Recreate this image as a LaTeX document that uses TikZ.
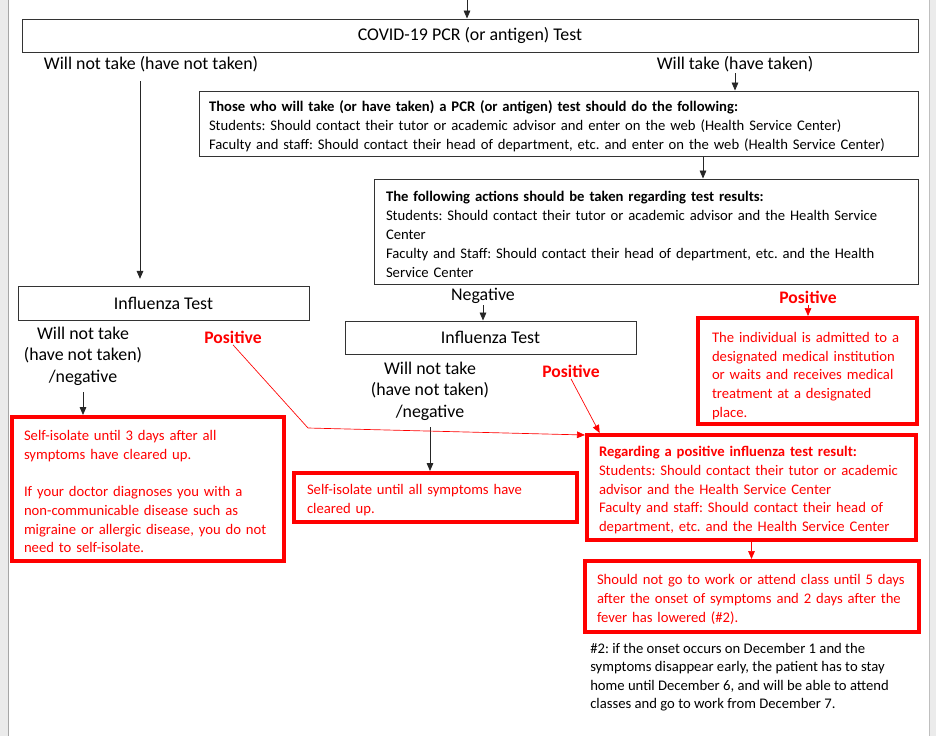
\documentclass[tikz,border=0pt]{standalone}
\usepackage{fontspec}
\setmainfont{Carlito}
\frenchspacing
\usetikzlibrary{arrows.meta}

\tikzset{
  infobox/.style={draw=black!80, line width=0.75pt, inner xsep=7.5pt, inner ysep=0pt,
    align=left, font=\fontsize{11}{14.2}\selectfont, execute at begin node={\rule{0pt}{12pt}}},
  testbox/.style={draw=black!80, line width=0.75pt, inner sep=0pt,
    font=\fontsize{13.4}{15}\selectfont},
  redbox/.style={draw=red, line width=3pt, text=red, inner xsep=9pt, inner ysep=0pt,
    align=left, font=\fontsize{11}{14}\selectfont, execute at begin node={\rule{0pt}{12pt}}},
  lbl/.style={inner sep=1pt, align=center, font=\fontsize{13.4}{16.1}\selectfont},
  poslbl/.style={inner sep=1pt, text=red, font=\bfseries\fontsize{13.2}{15}\selectfont},
  arr/.style={-{Triangle[length=6pt,width=5pt]}, line width=0.6pt, black!85},
  redarr/.style={-{Triangle[length=6pt,width=5pt]}, line width=0.5pt, red},
}

\begin{document}
\begin{tikzpicture}[x=0.75pt, y=-0.75pt]
    % page
    \useasboundingbox (0,0) rectangle (936,736);
    \fill[black!8] (0,0) rectangle (936,736);
    \fill[white] (9,0) rectangle (929,736);
    \draw[black!35, line width=1pt] (8.5,0) -- (8.5,736);
    \draw[black!25, line width=0.75pt] (929.5,0) -- (929.5,736);

    % boxes
    \node[testbox, minimum width=672pt, minimum height=24.75pt] (covid) at (470,35.5)
        {COVID-19 PCR (or antigen) Test};
    \node[infobox, text width=524.25pt, minimum height=48.75pt] (pcrinfo) at (558.5,123.5)
        {\textbf{Those who will take (or have taken) a PCR (or antigen) test should do the following:}\\
         Students: Should contact their tutor or academic advisor and enter on the web (Health Service Center)\\
         Faculty and staff: Should contact their head of department, etc. and enter on the web (Health Service Center)};
    \node[infobox, inner xsep=9pt, text width=390pt, minimum height=78.75pt] (results) at (646,231.5)
        {\textbf{The following actions should be taken regarding test results:}\\
         Students: Should contact their tutor or academic advisor and the Health Service\\
         Center\\
         Faculty and Staff: Should contact their head of department, etc. and the Health\\
         Service Center};
    \node[testbox, minimum width=218.25pt, minimum height=25.5pt] (fluA) at (163.5,303)
        {Influenza Test};
    \node[testbox, minimum width=218.25pt, minimum height=24.75pt] (fluB) at (490.5,337.5)
        {Influenza Test};
    \node[redbox, inner xsep=10.5pt, text width=143.25pt, minimum height=79.5pt,
          execute at begin node={\rule{0pt}{15pt}}] (admit) at (807.5,371)
        {The individual is admitted to a\\
         designated medical institution\\
         or waits and receives medical\\
         treatment at a designated\\
         place.};
    \node[redbox, text width=186pt, minimum height=108pt] (isoA) at (148,489)
        {Self-isolate until 3 days after all\\
         symptoms have cleared up.\\[14pt]
         If your doctor diagnoses you with a\\
         non-communicable disease such as\\
         migraine or allergic disease, you do not\\
         need to self-isolate.};
    \node[redbox, inner xsep=9.75pt, text width=192.75pt, minimum height=36.75pt] (isoB) at (435.5,497.5)
        {Self-isolate until all symptoms have\\
         cleared up.};
    \node[redbox, text width=228.75pt, minimum height=78.75pt] (flupos) at (751.5,487.5)
        {\textbf{Regarding a positive influenza test result:}\\
         Students: Should contact their tutor or academic\\
         advisor and the Health Service Center\\
         Faculty and staff: Should contact their head of\\
         department, etc. and the Health Service Center};
    \node[redbox, text width=232.5pt, minimum height=53.25pt] (nowork) at (752,596.5)
        {Should not go to work or attend class until 5 days\\
         after the onset of symptoms and 2 days after the\\
         fever has lowered (\#2).};
    \node[anchor=west, inner sep=0pt, align=left, font=\fontsize{11}{13.9}\selectfont] (note) at (590,677)
        {\#2: if the onset occurs on December 1 and the\\
         symptoms disappear early, the patient has to stay\\
         home until December 6, and will be able to attend\\
         classes and go to work from December 7.};

    % labels
    \node[lbl] (nottaken) at (151,64) {Will not take (have not taken)};
    \node[lbl] (taken) at (735,64) {Will take (have taken)};
    \node[lbl] (neg) at (483,296) {Negative};
    \node[poslbl] (pos) at (808,297) {Positive};
    \node[lbl] (fluAno) at (83,356) {Will not take\\(have not taken)\\/negative};
    \node[poslbl] (posA) at (233,337) {Positive};
    \node[lbl] (fluBno) at (430,391) {Will not take\\(have not taken)\\/negative};
    \node[poslbl] (posB) at (571,371) {Positive};
    \coordinate (entry) at (467,0);
    \coordinate (bend) at (308,428);

    % connectors
    \draw[arr] (entry) -- (entry |- covid.north);
    \draw[arr, shorten <=6pt, shorten >=5pt] ([xshift=-8.25pt]nottaken.south)
        -- ([xshift=-8.25pt]nottaken.south |- fluA.north);
    \draw[arr] (taken.south) -- (taken.south |- pcrinfo.north);
    \draw[arr] ([xshift=42.75pt]results.north |- pcrinfo.south) -- ([xshift=42.75pt]results.north);
    \draw[arr] (neg.south) -- (neg.south |- fluB.north);
    \draw[redarr] (pos.south) -- (pos.south |- admit.north);
    \draw[arr, shorten <=4pt] (fluAno.south) -- (fluAno.south |- isoA.north);
    \draw[arr, shorten <=4pt] (fluBno.south) -- (fluBno.south |- isoB.north);
    \draw[redarr] (posA.south) -- (bend) -- ([yshift=-1.5pt]flupos.north west);
    \draw[redarr] (posB.south) -- ([xshift=11pt]flupos.north west);
    \draw[redarr] (flupos.south) -- (flupos.south |- nowork.north);
\end{tikzpicture}
\end{document}
